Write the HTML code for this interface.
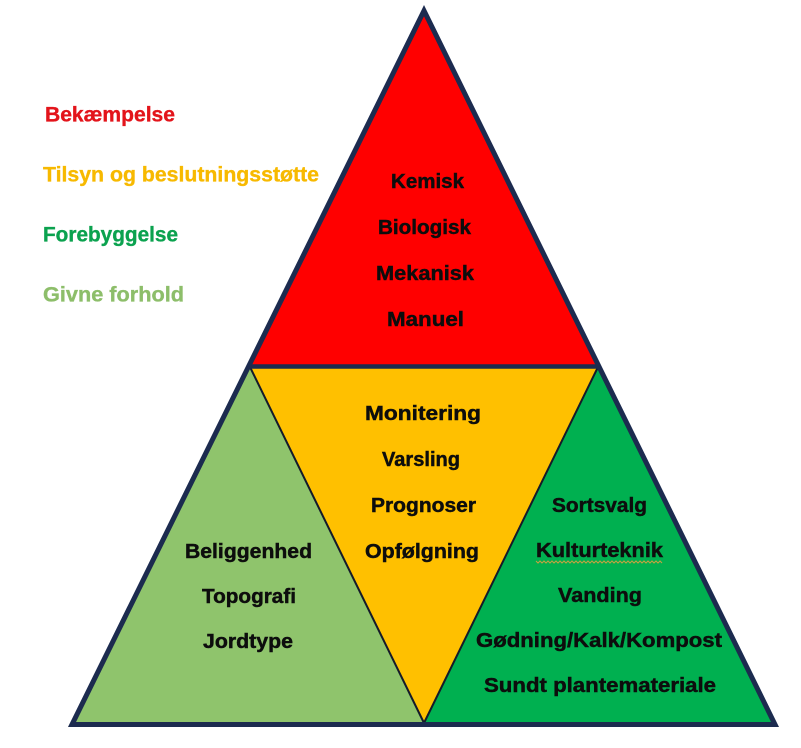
<!DOCTYPE html>
<html>
<head>
<meta charset="utf-8">
<style>
  html, body { margin: 0; padding: 0; background: #ffffff; }
  body { width: 801px; height: 748px; overflow: hidden; }
  svg { display: block; }
  text { font-family: "Liberation Sans", "DejaVu Sans", sans-serif; font-weight: bold; }
  .t { font-size: 20px; fill: #0d0d0d; stroke: #0d0d0d; stroke-width: 0.45; }
  .l { font-size: 21px; stroke-width: 0.35; }
</style>
</head>
<body>
<svg width="801" height="748" viewBox="0 0 801 748" xmlns="http://www.w3.org/2000/svg">
  <rect x="0" y="0" width="801" height="748" fill="#ffffff"/>

  <!-- fills -->
  <polygon points="424,10.7 248.8,366 598.7,366" fill="#FF0000"/>
  <polygon points="248.8,366 72,724.5 424,724.5" fill="#8FC46C"/>
  <polygon points="598.7,366 424,724.5 775,724.5" fill="#00B050"/>
  <polygon points="248.8,366 598.7,366 424,724.5" fill="#FFC000"/>

  <!-- inner yellow triangle edges -->
  <line x1="250" y1="367" x2="424" y2="723" stroke="#141a2a" stroke-width="2"/>
  <line x1="598" y1="367" x2="424" y2="723" stroke="#141a2a" stroke-width="2"/>
  <!-- horizontal mid line -->
  <line x1="247" y1="366.5" x2="600" y2="366.5" stroke="#1c2b4f" stroke-width="4.5"/>

  <!-- outer border -->
  <polygon points="424,10.7 72,724.5 775,724.5" fill="none" stroke="#1c2b4f" stroke-width="5" stroke-linejoin="miter" stroke-miterlimit="10"/>

  <!-- legend -->
  <text class="l" x="45" y="121.5" fill="#E3141B" stroke="#E3141B" textLength="130" lengthAdjust="spacingAndGlyphs">Bekæmpelse</text>
  <text class="l" x="43" y="181.5" fill="#F7B900" stroke="#F7B900" textLength="276" lengthAdjust="spacingAndGlyphs">Tilsyn og beslutningsstøtte</text>
  <text class="l" x="43" y="241.5" fill="#0BA24F" stroke="#0BA24F" textLength="135" lengthAdjust="spacingAndGlyphs">Forebyggelse</text>
  <text class="l" x="43" y="301.5" fill="#8DBE6A" stroke="#8DBE6A" textLength="141" lengthAdjust="spacingAndGlyphs">Givne forhold</text>

  <!-- red -->
  <text class="t" x="391" y="188" textLength="73" lengthAdjust="spacingAndGlyphs">Kemisk</text>
  <text class="t" x="378" y="234" textLength="93" lengthAdjust="spacingAndGlyphs">Biologisk</text>
  <text class="t" x="376" y="280" textLength="98" lengthAdjust="spacingAndGlyphs">Mekanisk</text>
  <text class="t" x="387" y="326" textLength="77" lengthAdjust="spacingAndGlyphs">Manuel</text>

  <!-- yellow -->
  <text class="t" x="365" y="420" textLength="116" lengthAdjust="spacingAndGlyphs">Monitering</text>
  <text class="t" x="382" y="466" textLength="78" lengthAdjust="spacingAndGlyphs">Varsling</text>
  <text class="t" x="371" y="512" textLength="105" lengthAdjust="spacingAndGlyphs">Prognoser</text>
  <text class="t" x="365" y="558" textLength="114" lengthAdjust="spacingAndGlyphs">Opfølgning</text>

  <!-- light green -->
  <text class="t" x="185" y="558" textLength="127" lengthAdjust="spacingAndGlyphs">Beliggenhed</text>
  <text class="t" x="202" y="603" textLength="94" lengthAdjust="spacingAndGlyphs">Topografi</text>
  <text class="t" x="203" y="648" textLength="90" lengthAdjust="spacingAndGlyphs">Jordtype</text>

  <!-- green -->
  <text class="t" x="552" y="512" textLength="95" lengthAdjust="spacingAndGlyphs">Sortsvalg</text>
  <text class="t" x="536" y="557" textLength="127" lengthAdjust="spacingAndGlyphs">Kulturteknik</text>
  <polyline fill="none" stroke="#c8a040" stroke-width="1"
    points="536,561 538,563 540,561 542,563 544,561 546,563 548,561 550,563 552,561 554,563 556,561 558,563 560,561 562,563 564,561 566,563 568,561 570,563 572,561 574,563 576,561 578,563 580,561 582,563 584,561 586,563 588,561 590,563 592,561 594,563 596,561 598,563 600,561 602,563 604,561 606,563 608,561 610,563 612,561 614,563 616,561 618,563 620,561 622,563 624,561 626,563 628,561 630,563 632,561 634,563 636,561 638,563 640,561 642,563 644,561 646,563 648,561 650,563 652,561 654,563 656,561 658,563 660,561 662,563"/>
  <text class="t" x="558" y="602" textLength="84" lengthAdjust="spacingAndGlyphs">Vanding</text>
  <text class="t" x="476" y="647" textLength="246" lengthAdjust="spacingAndGlyphs">Gødning/Kalk/Kompost</text>
  <text class="t" x="484" y="692" textLength="232" lengthAdjust="spacingAndGlyphs">Sundt plantemateriale</text>
</svg>
</body>
</html>
